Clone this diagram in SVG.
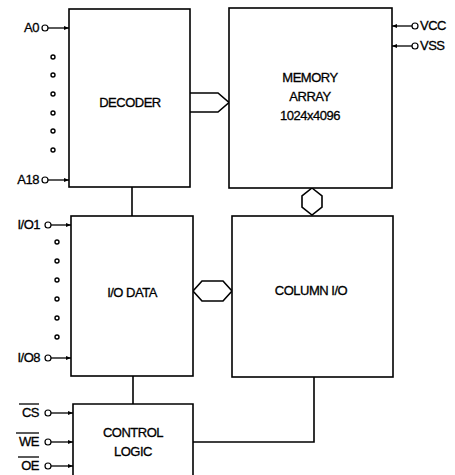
<svg xmlns="http://www.w3.org/2000/svg" width="455" height="475" viewBox="0 0 455 475">
<style>
.box{fill:#fff;stroke:#000;stroke-width:1.6}
.ln{fill:none;stroke:#000;stroke-width:1.6}
.pin{fill:none;stroke:#000;stroke-width:1.3}
.pc{fill:#fff;stroke:#000;stroke-width:1.2}
.dot{fill:#fff;stroke:#000;stroke-width:1.4}
text{font-family:"Liberation Sans",Arial,sans-serif;font-size:13px;fill:#000;stroke:#000;stroke-width:0.3;letter-spacing:-0.5px}
.c{text-anchor:middle}
.r{text-anchor:end}
</style>
<defs>
<marker id="ah" viewBox="0 0 10 10" refX="10" refY="5" markerWidth="6" markerHeight="5" orient="auto" markerUnits="userSpaceOnUse">
<path d="M0,1 L10,5 L0,9 Z" fill="#000"/>
</marker>
</defs>
<g id="connectors">
<line class="ln" x1="132" y1="187" x2="132" y2="216"/>
<line class="ln" x1="133" y1="376" x2="133" y2="404"/>
<polyline class="ln" points="314,377 314,442 193,442"/>
<path class="ln" d="M190,93 L218,93 L229,102.5 L218,112 L190,112"/>
<path class="ln" d="M312,188 L322,196 L322,207 L312,215 L302,207 L302,196 Z"/>
<path class="ln" d="M193,291 L202,281 L223,281 L232,291 L223,301 L202,301 Z"/>
</g>
<g id="decoder">
<rect class="box" x="69" y="9" width="121" height="178"/>
<text class="c" x="130" y="107">DECODER</text>
</g>
<g id="memory-array">
<rect class="box" x="229" y="8" width="163" height="180"/>
<text class="c" x="310" y="82">MEMORY</text>
<text class="c" x="310" y="101">ARRAY</text>
<text class="c" x="310" y="120">1024x4096</text>
</g>
<g id="io-data">
<rect class="box" x="71" y="216" width="122" height="160"/>
<text class="c" x="132" y="297">I/O DATA</text>
</g>
<g id="column-io">
<rect class="box" x="232" y="216" width="161" height="161"/>
<text class="c" x="311" y="295">COLUMN I/O</text>
</g>
<g id="control-logic">
<path class="box" d="M73,476 L73,404 L193,404 L193,476"/>
<text class="c" x="133" y="437">CONTROL</text>
<text class="c" x="133" y="456">LOGIC</text>
</g>
<g id="pins">
<text class="r" x="39" y="32">A0</text>
<line class="pin" x1="48" y1="28" x2="69" y2="28" marker-end="url(#ah)"/>
<circle class="pc" cx="45" cy="28" r="3"/>
<circle class="dot" cx="53" cy="57" r="2"/>
<circle class="dot" cx="53" cy="75" r="2"/>
<circle class="dot" cx="53" cy="94" r="2"/>
<circle class="dot" cx="53" cy="113" r="2"/>
<circle class="dot" cx="53" cy="131" r="2"/>
<circle class="dot" cx="53" cy="150" r="2"/>
<text class="r" x="39" y="184">A18</text>
<line class="pin" x1="48" y1="180" x2="69" y2="180" marker-end="url(#ah)"/>
<circle class="pc" cx="45" cy="180" r="3"/>

<line class="pin" x1="412" y1="26" x2="392" y2="26" marker-end="url(#ah)"/>
<circle class="pc" cx="415" cy="26" r="3"/>
<text x="420" y="30">VCC</text>
<line class="pin" x1="412" y1="46" x2="392" y2="46" marker-end="url(#ah)"/>
<circle class="pc" cx="415" cy="46" r="3"/>
<text x="420" y="50">VSS</text>

<text class="r" x="40" y="229">I/O1</text>
<line class="pin" x1="51" y1="225" x2="71" y2="225" marker-end="url(#ah)"/>
<circle class="pc" cx="48" cy="225" r="3"/>
<circle class="dot" cx="57" cy="242" r="2"/>
<circle class="dot" cx="57" cy="261" r="2"/>
<circle class="dot" cx="57" cy="280" r="2"/>
<circle class="dot" cx="57" cy="299" r="2"/>
<circle class="dot" cx="57" cy="318" r="2"/>
<circle class="dot" cx="57" cy="337" r="2"/>
<text class="r" x="40" y="362">I/O8</text>
<line class="pin" x1="51" y1="358" x2="71" y2="358" marker-end="url(#ah)"/>
<circle class="pc" cx="48" cy="358" r="3"/>

<text class="r" x="39" y="417">CS</text>
<line class="pin" x1="19" y1="404" x2="39" y2="404"/>
<line class="pin" x1="51" y1="413" x2="73" y2="413" marker-end="url(#ah)"/>
<circle class="pc" cx="48" cy="413" r="3"/>
<text class="r" x="39" y="446">WE</text>
<line class="pin" x1="16" y1="433" x2="39" y2="433"/>
<line class="pin" x1="51" y1="442" x2="73" y2="442" marker-end="url(#ah)"/>
<circle class="pc" cx="48" cy="442" r="3"/>
<text class="r" x="39" y="470">OE</text>
<line class="pin" x1="18" y1="457" x2="39" y2="457"/>
<line class="pin" x1="51" y1="466" x2="73" y2="466" marker-end="url(#ah)"/>
<circle class="pc" cx="48" cy="466" r="3"/>
</g>
</svg>
